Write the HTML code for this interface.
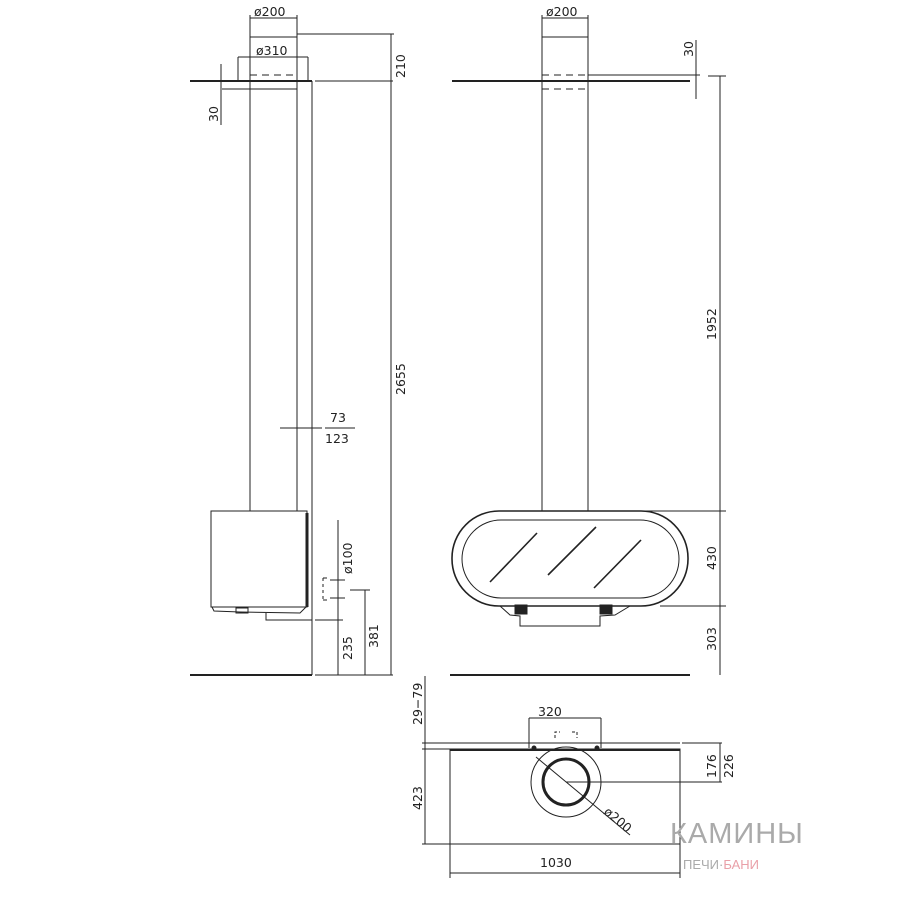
<!DOCTYPE html>
<html><head><meta charset="utf-8"><style>
html,body{margin:0;padding:0;background:#fff}
svg{display:block}
text{font-family:"DejaVu Sans","Liberation Sans",sans-serif;fill:#222}
</style></head><body>
<svg width="900" height="900" viewBox="0 0 900 900" xmlns="http://www.w3.org/2000/svg">
<g stroke="#222" fill="none" stroke-width="1">
<line x1="190" y1="81" x2="312" y2="81" stroke-width="2"/>
<line x1="315" y1="81" x2="393" y2="81"/>
<line x1="250" y1="37" x2="250" y2="511"/>
<line x1="297" y1="37" x2="297" y2="511"/>
<line x1="250" y1="37" x2="297" y2="37"/>
<line x1="297" y1="34" x2="394" y2="34"/>
<line x1="238" y1="57" x2="238" y2="81"/>
<line x1="308" y1="57" x2="308" y2="81"/>
<line x1="312" y1="81" x2="312" y2="675"/>
<line x1="250" y1="75" x2="297" y2="75" stroke-dasharray="7,5"/>
<line x1="250" y1="89" x2="297" y2="89" stroke-dasharray="7,5"/>
<line x1="222" y1="89" x2="297" y2="89"/>
<line x1="250" y1="18" x2="297" y2="18"/>
<line x1="250" y1="15" x2="250" y2="37"/>
<line x1="297" y1="15" x2="297" y2="37"/>
<line x1="238" y1="57" x2="308" y2="57"/>
<line x1="221" y1="64" x2="221" y2="125"/>
<line x1="391" y1="34" x2="391" y2="675"/>
<line x1="280" y1="428" x2="322" y2="428"/>
<line x1="325" y1="428" x2="355" y2="428"/>
<rect x="211" y="511" width="96" height="96"/>
<line x1="307" y1="513" x2="307" y2="607" stroke-width="3"/>
<path d="M212 607 L214 611 L240 612 L300 613 L306 607"/>
<rect x="236" y="608" width="12" height="5"/>
<path d="M266 613 L266 620 L312 620"/>
<line x1="315" y1="620" x2="343" y2="620"/>
<line x1="323" y1="578" x2="327" y2="578"/><line x1="323" y1="600" x2="327" y2="600"/>
<line x1="323" y1="578" x2="323" y2="600" stroke-dasharray="3,3"/>
<line x1="330" y1="580" x2="345" y2="580"/><line x1="330" y1="598" x2="345" y2="598"/>
<line x1="338" y1="520" x2="338" y2="675"/>
<line x1="350" y1="590" x2="370" y2="590"/>
<line x1="365" y1="590" x2="365" y2="675"/>
<line x1="190" y1="675" x2="312" y2="675" stroke-width="2"/>
<line x1="315" y1="675" x2="393" y2="675"/>
<line x1="452" y1="81" x2="690" y2="81" stroke-width="2"/>
<line x1="588" y1="75" x2="700" y2="75"/>
<line x1="542" y1="37" x2="542" y2="511"/>
<line x1="588" y1="37" x2="588" y2="511"/>
<line x1="542" y1="37" x2="588" y2="37"/>
<line x1="542" y1="18" x2="588" y2="18"/>
<line x1="542" y1="15" x2="542" y2="37"/>
<line x1="588" y1="15" x2="588" y2="37"/>
<line x1="542" y1="75" x2="588" y2="75" stroke-dasharray="7,5"/>
<line x1="542" y1="89" x2="588" y2="89" stroke-dasharray="7,5"/>
<line x1="696" y1="40" x2="696" y2="99"/>
<line x1="708" y1="76" x2="726" y2="76"/>
<line x1="720" y1="76" x2="720" y2="675"/>
<line x1="588" y1="511" x2="726" y2="511"/>
<line x1="660" y1="606" x2="726" y2="606"/>
<rect x="452" y="511" width="236" height="95" rx="47" ry="47" stroke-width="1.6"/>
<rect x="462" y="520" width="217" height="78" rx="39" ry="39"/>
<line x1="490" y1="582" x2="537" y2="533" stroke-width="1.6"/>
<line x1="548" y1="575" x2="596" y2="527" stroke-width="1.6"/>
<line x1="594" y1="588" x2="641" y2="540" stroke-width="1.6"/>
<path d="M500 606 L510 615 L520 616 L520 626 L600 626 L600 616 L615 615 L630 606"/>
<rect x="515" y="605" width="12" height="9" fill="#222"/>
<rect x="600" y="605" width="12" height="9" fill="#222"/>
<line x1="450" y1="675" x2="690" y2="675" stroke-width="2"/>
<line x1="422" y1="743" x2="680" y2="743"/>
<line x1="422" y1="749" x2="450" y2="749"/>
<rect x="450" y="749" width="230" height="95"/>
<line x1="450" y1="750" x2="680" y2="750" stroke-width="2"/>
<line x1="529" y1="718" x2="529" y2="748"/>
<line x1="601" y1="718" x2="601" y2="748"/>
<line x1="529" y1="718" x2="601" y2="718"/>
<path d="M555 738 L555 732 L560 732 M572 732 L577 732 L577 738" stroke-dasharray="3,2"/>
<circle cx="534" cy="748" r="2" fill="#222"/><circle cx="597" cy="748" r="2" fill="#222"/>
<circle cx="566" cy="782" r="35"/>
<circle cx="566" cy="782" r="23" stroke-width="3"/>
<line x1="566" y1="782" x2="722" y2="782"/>
<line x1="682" y1="743" x2="722" y2="743"/>
<line x1="536" y1="757" x2="630" y2="835"/>
<line x1="720" y1="743" x2="720" y2="782"/>
<line x1="425" y1="676" x2="425" y2="844"/>
<line x1="422" y1="844" x2="450" y2="844"/>
<line x1="450" y1="844" x2="450" y2="878"/>
<line x1="680" y1="844" x2="680" y2="878"/>
<line x1="450" y1="873" x2="680" y2="873"/>
</g>
<g font-size="12.5">
<text x="254" y="16">ø200</text>
<text x="256" y="55">ø310</text>
<text x="546" y="16">ø200</text>
<text x="330" y="422">73</text>
<text x="325" y="443">123</text>
<text x="538" y="716">320</text>
<text x="540" y="867">1030</text>
<text transform="translate(218,122) rotate(-90)">30</text>
<text transform="translate(405,78) rotate(-90)">210</text>
<text transform="translate(405,395) rotate(-90)">2655</text>
<text transform="translate(693,57) rotate(-90)">30</text>
<text transform="translate(716,340) rotate(-90)">1952</text>
<text transform="translate(716,570) rotate(-90)">430</text>
<text transform="translate(716,651) rotate(-90)">303</text>
<text transform="translate(352,574) rotate(-90)">ø100</text>
<text transform="translate(352,660) rotate(-90)">235</text>
<text transform="translate(378,648) rotate(-90)">381</text>
<text transform="translate(422,725) rotate(-90)">29−79</text>
<text transform="translate(422,810) rotate(-90)">423</text>
<text transform="translate(716,778) rotate(-90)">176</text>
<text transform="translate(733,778) rotate(-90)">226</text>
<text transform="translate(603,813) rotate(40)">ø200</text>
</g>
<text x="670" y="843" font-size="29" letter-spacing="1" style="fill:#aaa;font-family:'Liberation Sans',sans-serif">КАМИНЫ</text>
<text x="683" y="869" font-size="13" style="fill:#aaa;font-family:'Liberation Sans',sans-serif">ПЕЧИ·<tspan style="fill:#e9a0a8">БАНИ</tspan></text>
</svg>
</body></html>
